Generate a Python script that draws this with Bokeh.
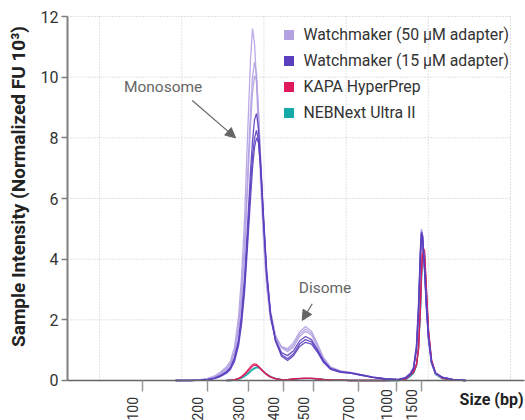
import numpy as np
from bokeh.plotting import figure
from bokeh.models import (Range1d, FixedTicker, Label, LabelSet, ColumnDataSource,
                          Arrow, NormalHead, Legend, LegendItem, LinearAxis)
from bokeh.embed import file_html
from bokeh.resources import INLINE
from bokeh.core.properties import value

nan = np.nan

# migration time (s) sample points
time_s = [39.25, 41.07, 42.29, 43.14, 43.99, 44.72, 45.45, 45.94, 46.42, 46.91,
          47.27, 47.64, 48.00, 48.37, 48.61, 48.86, 49.10, 49.34, 49.59, 49.95,
          50.32, 50.80, 51.41, 52.14, 52.87, 53.60, 54.33, 55.06, 55.79, 56.52,
          57.25, 58.10, 59.32, 60.54, 61.75, 63.21, 64.79, 66.37, 67.23, 67.83,
          68.20, 68.56, 68.81, 69.05, 69.17, 69.29, 69.54, 69.78, 70.02, 70.39,
          70.88, 71.73, 72.94, 74.53]

# Watchmaker (50 uM adapter) replicates
wm50_a = [0, 0.01, 0.03, 0.07, 0.15, 0.28, 0.45, 0.65, 1.1, 2.1,
          3.4, 5.3, 8.0, 10.6, 11.6, 11.1, 9.8, 8.2, 6.6, 4.6,
          3.1, 2.0, 1.4, 1.12, 1.05, 1.25, 1.6, 1.78, 1.62, 1.2,
          0.75, 0.45, 0.32, 0.27, 0.2, 0.12, 0.06, 0.04, 0.1, 0.25,
          0.45, 1.2, 2.6, 4.5, 5.0, 4.8, 3.6, 2.3, 1.3, 0.55,
          0.22, 0.1, 0.04, 0]
wm50_b = [0, 0.01, 0.02, 0.05, 0.12, 0.24, 0.4, 0.58, 0.95, 1.8,
          2.9, 4.5, 6.7, 8.9, 10.0, 10.5, 10.1, 8.8, 7.2, 5.2,
          3.5, 2.2, 1.45, 1.1, 1.0, 1.18, 1.52, 1.7, 1.56, 1.15,
          0.72, 0.43, 0.31, 0.26, 0.19, 0.11, 0.06, 0.04, 0.1, 0.24,
          0.42, 1.1, 2.4, 4.3, 4.9, 4.75, 3.7, 2.4, 1.4, 0.6,
          0.24, 0.1, 0.04, 0]
wm50_c = [0, 0.01, 0.02, 0.05, 0.11, 0.22, 0.37, 0.54, 0.9, 1.65,
          2.7, 4.2, 6.3, 8.4, 9.5, 10.05, 9.9, 8.9, 7.4, 5.4,
          3.7, 2.3, 1.5, 1.08, 0.95, 1.1, 1.45, 1.62, 1.5, 1.12,
          0.7, 0.42, 0.3, 0.26, 0.19, 0.11, 0.05, 0.04, 0.1, 0.23,
          0.42, 1.15, 2.5, 4.4, 4.95, 4.8, 3.6, 2.3, 1.35, 0.55,
          0.22, 0.1, 0.04, 0]

# Watchmaker (15 uM adapter) replicates
wm15_a = [0, 0, 0.01, 0.03, 0.08, 0.17, 0.3, 0.45, 0.75, 1.35,
          2.2, 3.4, 5.1, 6.9, 7.9, 8.6, 8.8, 8.3, 7.2, 5.3,
          3.6, 2.2, 1.35, 0.92, 0.82, 0.98, 1.3, 1.45, 1.35, 1.02,
          0.65, 0.4, 0.29, 0.25, 0.19, 0.11, 0.05, 0.03, 0.09, 0.22,
          0.4, 1.1, 2.4, 4.3, 4.9, 4.8, 3.7, 2.4, 1.4, 0.6,
          0.24, 0.1, 0.04, 0]
wm15_b = [0, 0, 0.01, 0.03, 0.07, 0.15, 0.27, 0.41, 0.7, 1.25,
          2.0, 3.1, 4.7, 6.4, 7.4, 8.0, 8.25, 7.9, 7.0, 5.2,
          3.5, 2.15, 1.3, 0.85, 0.72, 0.88, 1.2, 1.35, 1.27, 0.97,
          0.62, 0.38, 0.28, 0.24, 0.18, 0.1, 0.05, 0.03, 0.09, 0.22,
          0.4, 1.05, 2.3, 4.2, 4.85, 4.75, 3.7, 2.4, 1.4, 0.6,
          0.24, 0.1, 0.04, 0]
wm15_c = [0, 0, 0.01, 0.02, 0.06, 0.13, 0.24, 0.37, 0.63, 1.15,
          1.85, 2.9, 4.4, 6.0, 7.0, 7.7, 8.0, 7.85, 7.1, 5.4,
          3.6, 2.2, 1.3, 0.8, 0.66, 0.82, 1.12, 1.26, 1.2, 0.93,
          0.6, 0.37, 0.27, 0.24, 0.18, 0.1, 0.05, 0.03, 0.08, 0.21,
          0.38, 1.0, 2.2, 4.1, 4.8, 4.75, 3.75, 2.5, 1.45, 0.62,
          0.25, 0.1, 0.04, 0]

# KAPA HyperPrep replicates
kapa_a = [nan, nan, nan, nan, nan, nan, 0, 0.01, 0.03, 0.07,
          0.13, 0.22, 0.33, 0.45, 0.52, 0.55, 0.53, 0.47, 0.4, 0.3,
          0.21, 0.12, 0.06, 0.03, 0.03, 0.05, 0.07, 0.08, 0.07, 0.06,
          0.04, 0.02, 0.01, 0, 0, 0, 0, 0.01, 0.05, 0.22,
          0.3, 0.55, 1.0, 2.6, 3.6, 4.4, 4.3, 3.0, 1.7, 0.7,
          0.25, 0.08, 0.02, 0]
kapa_b = [nan, nan, nan, nan, nan, nan, 0, 0.01, 0.02, 0.06,
          0.11, 0.19, 0.29, 0.4, 0.47, 0.5, 0.5, 0.45, 0.38, 0.28,
          0.19, 0.11, 0.05, 0.02, 0.03, 0.05, 0.06, 0.07, 0.07, 0.05,
          0.03, 0.02, 0.01, 0, 0, 0, 0, 0.01, 0.04, 0.18,
          0.26, 0.5, 1.1, 2.5, 3.5, 4.2, 4.2, 2.9, 1.6, 0.65,
          0.22, 0.07, 0.02, 0]

# NEBNext Ultra II replicates
neb_a = [nan, nan, nan, nan, nan, nan, 0, 0, 0.02, 0.05,
         0.09, 0.15, 0.23, 0.32, 0.38, 0.42, 0.45, 0.44, 0.39, 0.3,
         0.21, 0.12, 0.06, 0.03, 0.03, 0.05, 0.06, 0.07, 0.07, 0.06,
         0.04, 0.02, 0.01, 0, 0, 0, 0, 0, 0.03, 0.15,
         0.25, 0.5, 1.1, 2.4, 3.4, 4.2, 4.1, 2.8, 1.6, 0.6,
         0.2, 0.06, 0.02, 0]
neb_b = [nan, nan, nan, nan, nan, nan, 0, 0, 0.01, 0.04,
         0.08, 0.13, 0.2, 0.29, 0.35, 0.39, 0.42, 0.42, 0.38, 0.3,
         0.21, 0.13, 0.07, 0.03, 0.03, 0.04, 0.06, 0.06, 0.06, 0.05,
         0.04, 0.02, 0.01, 0, 0, 0, 0, 0, 0.03, 0.14,
         0.24, 0.48, 1.05, 2.3, 3.3, 4.1, 4.1, 2.8, 1.6, 0.6,
         0.2, 0.06, 0.02, 0]

# size ladder: bp labels and their migration times
bp_labels = ["100", "200", "300", "400", "500", "700", "1000", "1500"]
bp_times = [35.27, 43.18, 48.16, 52.35, 56.02, 61.55, 66.13, 69.17]

series_names = ["Watchmaker (50 µM adapter)", "Watchmaker (15 µM adapter)",
                "KAPA HyperPrep", "NEBNext Ultra II"]
series_colors = ["#b3a1e2", "#5a3fbf", "#e0195c", "#14aaa8"]

y_ticks = [0, 2, 4, 6, 8, 10, 12]
time_grid = [30, 40, 50, 60, 70, 80]

FONT = "Roboto"
T_MIN, T_MAX = 26.1, 80.0   # plotted time window
Y_MIN, Y_MAX = 0, 12

# the frame covers the whole canvas; axes sit at fixed data locations
p = figure(width=525, height=420, output_backend="svg", toolbar_location=None,
           x_range=Range1d(17.948, 81.825), y_range=Range1d(-1.3187, 12.5275),
           x_axis_type=None, y_axis_type=None, min_border=0)
p.outline_line_color = None
p.background_fill_color = "white"
p.border_fill_color = "white"

# dotted grid limited to the plotted window
vg = p.segment(x0=time_grid, y0=[Y_MIN] * len(time_grid), x1=time_grid,
               y1=[Y_MAX] * len(time_grid), line_color="#c4c4c4", line_dash="1 2",
               line_width=1)
hg = p.segment(x0=[T_MIN] * len(y_ticks), y0=y_ticks, x1=[T_MAX] * len(y_ticks),
               y1=y_ticks, line_color="#c4c4c4", line_dash="1 2", line_width=1)
vg.level = "underlay"
hg.level = "underlay"

# y axis
yax = LinearAxis(fixed_location=T_MIN, ticker=FixedTicker(ticks=y_ticks),
                 bounds=(Y_MIN, Y_MAX))
yax.axis_line_color = "#808080"
yax.axis_line_width = 2
yax.major_tick_line_color = "#808080"
yax.major_tick_line_width = 1.5
yax.major_tick_out = 6
yax.major_tick_in = 0
yax.minor_tick_line_color = None
yax.major_label_standoff = 3
yax.major_label_text_font = FONT
yax.major_label_text_font_size = "16px"
yax.major_label_text_color = "#333333"
p.add_layout(yax, "left")

# x axis (size ladder ticks)
xax = LinearAxis(fixed_location=0, ticker=FixedTicker(ticks=bp_times),
                 bounds=(T_MIN, 81.7))
xax.axis_line_color = "#666666"
xax.axis_line_width = 1.5
xax.major_tick_line_color = "#999999"
xax.major_tick_line_width = 1.5
xax.major_tick_out = 11
xax.major_tick_in = 0
xax.minor_tick_line_color = None
xax.major_label_text_color = None
p.add_layout(xax, "below")

# traces
groups = [
    ([neb_a, neb_b], series_colors[3]),
    ([kapa_a, kapa_b], series_colors[2]),
    ([wm50_a, wm50_b, wm50_c], series_colors[0]),
    ([wm15_a, wm15_b, wm15_c], series_colors[1]),
]
for traces, col in groups:
    for tr in traces:
        p.line(time_s, tr, line_color=col, line_width=1.3, line_alpha=0.9)

# legend with square markers (proxy renderers with no visible point)
items = []
for name, col in zip(series_names, series_colors):
    r = p.scatter(x=[nan], y=[nan], marker="square", size=10, fill_color=col,
                  line_color=None)
    items.append(LegendItem(label=name, renderers=[r]))
legend = Legend(items=items, location=(275.5, 295.5), glyph_width=25,
                glyph_height=25, label_height=25, spacing=1, padding=0, margin=0,
                label_standoff=3, border_line_color=None, background_fill_alpha=0,
                label_text_font=FONT, label_text_font_size="15.8px",
                label_text_color="#333333")
p.add_layout(legend)

# ladder labels
src = ColumnDataSource(dict(x=bp_times, text=bp_labels))
p.add_layout(LabelSet(x="x", y=0, y_units="screen", text="text", source=src,
                      angle=np.pi / 2, text_align="left", text_baseline="middle",
                      x_offset=-10, text_font=value(FONT), text_font_size="14px",
                      text_color="#333333"))

# axis titles
p.add_layout(Label(x=18, y=234, x_units="screen", y_units="screen",
                   text="Sample Intensity (Normalized FU 10³)", angle=np.pi / 2,
                   text_align="center", text_baseline="middle", text_font=FONT,
                   text_font_size="19px", text_font_style="bold",
                   text_color="#222222"))
p.add_layout(Label(x=523, y=21, x_units="screen", y_units="screen",
                   text="Size (bp)", text_align="right", text_baseline="middle",
                   text_font=FONT, text_font_size="16px", text_font_style="bold",
                   text_color="#222222"))

# peak annotations
p.add_layout(Label(x=37.73, y=9.66, text="Monosome", text_align="center",
                   text_baseline="middle", text_font=FONT, text_font_size="15.5px",
                   text_color="#666666"))
p.add_layout(Arrow(end=NormalHead(size=10, fill_color="#666666", line_color="#666666"),
                   x_start=41.28, y_start=9.23, x_end=46.55, y_end=8.0,
                   line_color="#666666", line_width=1.2))
p.add_layout(Label(x=57.43, y=3.05, text="Disome", text_align="center",
                   text_baseline="middle", text_font=FONT, text_font_size="15.5px",
                   text_color="#666666"))
p.add_layout(Arrow(end=NormalHead(size=10, fill_color="#666666", line_color="#666666"),
                   x_start=55.88, y_start=2.53, x_end=54.66, y_end=1.98,
                   line_color="#666666", line_width=1.2))

open("out.html", "w").write(file_html(p, INLINE))
